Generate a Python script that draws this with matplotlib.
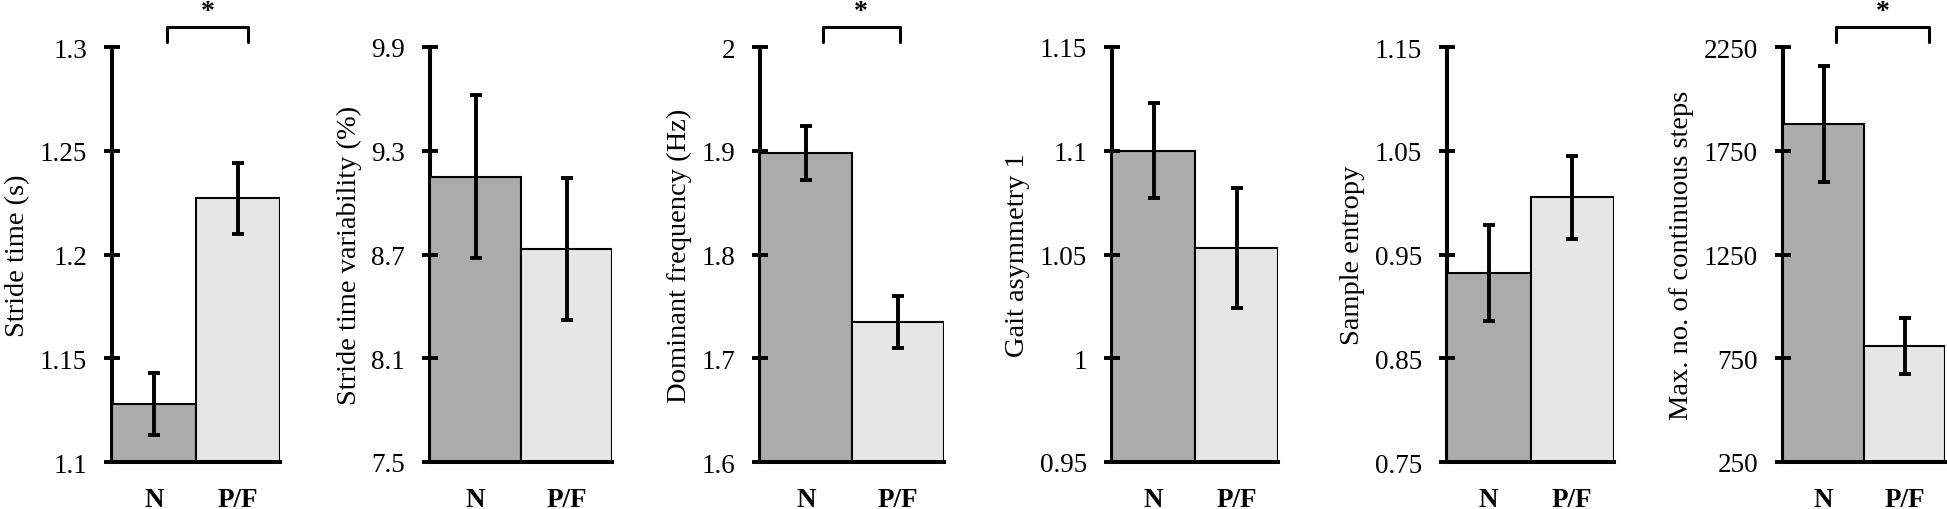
import matplotlib
matplotlib.use('Agg')
import matplotlib.pyplot as plt

plt.rcParams['font.family'] = ['Liberation Serif', 'DejaVu Serif']

# Data: group means and error bar half-lengths
groups = ['N', 'P/F']
ylabels = ['Stride time (s)', 'Stride time variability (%)', 'Dominant frequency (Hz)',
           'Gait asymmetry 1', 'Sample entropy', 'Max. no. of continuous steps']
means = [[1.128, 1.227], [9.15, 8.73], [1.898, 1.735],
         [1.100, 1.053], [0.932, 1.005], [1877, 808]]
errs = [[0.015, 0.017], [0.47, 0.41], [0.026, 0.025],
        [0.023, 0.029], [0.046, 0.040], [280, 134]]
yticks = [[1.1, 1.15, 1.2, 1.25, 1.3], [7.5, 8.1, 8.7, 9.3, 9.9], [1.6, 1.7, 1.8, 1.9, 2.0],
          [0.95, 1.0, 1.05, 1.1, 1.15], [0.75, 0.85, 0.95, 1.05, 1.15], [250, 750, 1250, 1750, 2250]]
yticklabels = [['1.1', '1.15', '1.2', '1.25', '1.3'], ['7.5', '8.1', '8.7', '9.3', '9.9'],
               ['1.6', '1.7', '1.8', '1.9', '2'], ['0.95', '1', '1.05', '1.1', '1.15'],
               ['0.75', '0.85', '0.95', '1.05', '1.15'], ['250', '750', '1250', '1750', '2250']]
significant = [True, False, True, False, False, True]

colors = ['#ababab', '#e6e6e6']

W, H = 1947, 510
# axes pixel extents (left spine x, right edge of P/F bar)
ax_px = [(112, 280), (430, 612), (760, 944), (1112, 1278), (1447, 1614), (1783, 1945)]
# bracket x range in axes fraction for each significant panel
brackets = {0: (0.33, 0.81), 2: (0.34, 0.76), 5: (0.33, 0.90)}
top_px, bot_px = 48, 463

fig = plt.figure(figsize=(W / 100, H / 100), dpi=100)

for i in range(6):
    x0, x1 = ax_px[i]
    ax = fig.add_axes([x0 / W, (H - bot_px) / H, (x1 - x0) / W, (bot_px - top_px) / H])
    ax.bar([0, 1], means[i], width=1.0, color=colors, edgecolor='black', linewidth=1.5,
           zorder=1)
    ax.errorbar([0, 1], means[i], yerr=errs[i], fmt='none', ecolor='black',
                elinewidth=2.8, capsize=4.5, capthick=2.8, zorder=3)
    ax.set_xlim(-0.5, 1.5)
    ax.set_ylim(yticks[i][0], yticks[i][-1])
    ax.set_yticks(yticks[i])
    ax.set_yticklabels(yticklabels[i])
    ax.set_xticks([0, 1])
    ax.set_xticklabels(groups, fontweight='bold')
    ax.tick_params(axis='y', direction='inout', length=12, width=2.8, labelsize=19.5, pad=12)
    ax.tick_params(axis='x', length=0, labelsize=19.5, pad=18)
    ax.set_ylabel(ylabels[i], fontsize=20.5, labelpad=7)
    for s in ['top', 'right']:
        ax.spines[s].set_visible(False)
    for s in ['left', 'bottom']:
        ax.spines[s].set_linewidth(2.9)
        ax.spines[s].set_zorder(4)
    ax.spines['left'].set_zorder(0.5)
    if significant[i]:
        bx0, bx1 = brackets[i]
        ax.plot([bx0, bx0, bx1, bx1], [1.012, 1.048, 1.048, 1.012], color='black',
                lw=2.2, transform=ax.transAxes, clip_on=False, solid_joinstyle='round',
                solid_capstyle='round')
        ax.text((bx0 + bx1) / 2, 1.055, '*', transform=ax.transAxes, ha='center',
                va='bottom', fontsize=20, fontweight='bold')

fig.savefig('out.png', dpi=100)
